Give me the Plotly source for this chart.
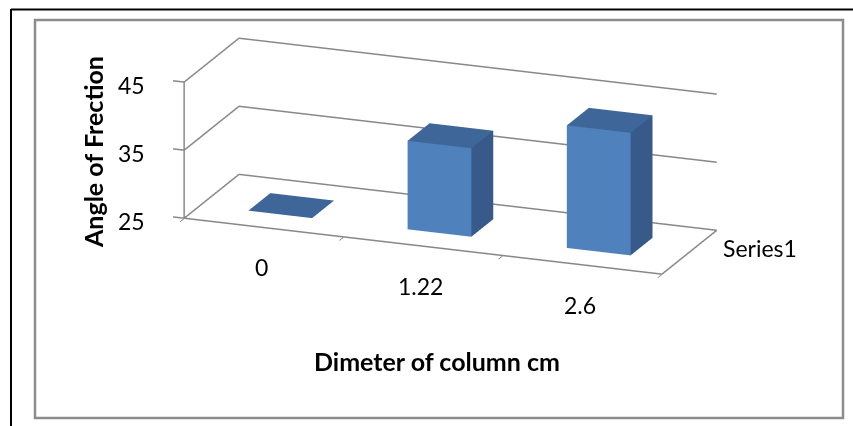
import plotly.graph_objects as go

# Column chart: angle of friction against column diameter
categories = ["0", "1.22", "2.6"]
angle_values = [25, 38, 43]
series_name = "Series1"
z_ticks = [25, 35, 45]

W, H = 853, 426
FONT = "Lato, 'Open Sans', sans-serif"

FRONT = "#4F81BD"
SIDE = "#385A8A"
TOP = "#3E6699"
EDGE = "#888888"

BAR_HALF = 0.2          # half of the column width (category units)
DEPTH = (0.3, 0.7)      # column extent along the series axis
BASE = z_ticks[0]
X_MIN, X_MAX = -0.5, len(categories) - 0.5
Y_MIN, Y_MAX = 0.0, 1.0
STUB = 0.07             # length of the value-axis tick stubs
# small margins so edges lying on the box faces are not clipped
XPAD_L, XPAD_R, YPAD, ZPAD = STUB + 0.01, 0.01, 0.01, 0.05


def box(xc, top):
    x0, x1 = xc - BAR_HALF, xc + BAR_HALF
    y0, y1 = DEPTH
    z0, z1 = BASE, top
    xs = [x0, x1, x1, x0, x0, x1, x1, x0]
    ys = [y0, y0, y1, y1, y0, y0, y1, y1]
    zs = [z0, z0, z0, z0, z1, z1, z1, z1]
    faces = [
        ((0, 1, 2), TOP), ((0, 2, 3), TOP),        # bottom
        ((4, 5, 6), TOP), ((4, 6, 7), TOP),        # top
        ((0, 1, 5), FRONT), ((0, 5, 4), FRONT),    # front
        ((3, 2, 6), SIDE), ((3, 6, 7), SIDE),      # back
        ((0, 3, 7), SIDE), ((0, 7, 4), SIDE),      # left
        ((1, 2, 6), SIDE), ((1, 6, 5), SIDE),      # right
    ]
    return xs, ys, zs, faces


X, Y, Z, I, J, K, C = [], [], [], [], [], [], []
for idx, val in enumerate(angle_values):
    xs, ys, zs, faces = box(idx, val)
    off = len(X)
    X += xs; Y += ys; Z += zs
    for (a, b, c), col in faces:
        I.append(a + off); J.append(b + off); K.append(c + off); C.append(col)

# wall grid lines at each value tick, floor outline, and the value-axis edge
lx, ly, lz = [], [], []


def seg(p, q):
    lx.extend([p[0], q[0], None]); ly.extend([p[1], q[1], None]); lz.extend([p[2], q[2], None])


for t in z_ticks:
    seg((X_MIN, Y_MIN, t), (X_MIN, Y_MAX, t))          # side wall
    seg((X_MIN, Y_MAX, t), (X_MAX, Y_MAX, t))          # back wall
    seg((X_MIN - STUB, Y_MIN, t), (X_MIN, Y_MIN, t))   # tick stub
seg((X_MIN, Y_MIN, BASE), (X_MAX, Y_MIN, BASE))        # floor front edge
seg((X_MAX, Y_MIN, BASE), (X_MAX, Y_MAX, BASE))        # floor right edge
seg((X_MIN, Y_MIN, z_ticks[0]), (X_MIN, Y_MIN, z_ticks[-1]))  # value axis

fig = go.Figure()
fig.add_trace(go.Scatter3d(
    x=lx, y=ly, z=lz, mode="lines", line=dict(color=EDGE, width=3),
    hoverinfo="skip", showlegend=False,
))
fig.add_trace(go.Mesh3d(
    x=X, y=Y, z=Z, i=I, j=J, k=K,
    facecolor=C, flatshading=True,
    lighting=dict(ambient=1, diffuse=0, specular=0, roughness=1, fresnel=0),
    hoverinfo="skip", showscale=False, name=series_name,
))

axis_common = dict(
    showbackground=False, showspikes=False, zeroline=False,
    showline=False, showgrid=False,
    title=dict(text=""), showticklabels=False,
)

label_font = dict(family=FONT, size=23, color="black")
scene_annotations = [
    dict(x=i, y=Y_MIN, z=BASE, text=cat, showarrow=False, font=label_font,
         xshift=-2, yshift=-40)
    for i, cat in enumerate(categories)
]
scene_annotations += [
    dict(x=X_MIN, y=Y_MIN, z=t, text=str(t), showarrow=False, font=label_font,
         xanchor="right", xshift=-37, yshift=-3)
    for t in z_ticks
]
scene_annotations.append(
    dict(x=X_MAX, y=(Y_MIN + Y_MAX) / 2, z=BASE, text=series_name, showarrow=False,
         font=label_font, xanchor="left", xshift=32, yshift=4)
)

x_lo, x_hi = X_MIN - XPAD_L, X_MAX + XPAD_R
y_lo, y_hi = Y_MIN - YPAD, Y_MAX + YPAD

# orthographic view from the front-right, slightly above the floor
R = 1.974
DIR = (0.340, -0.889, 0.306)
CEN = (0.0195, 0.0, -0.09)

fig.update_layout(
    width=W, height=H,
    margin=dict(l=0, r=0, t=0, b=0),
    paper_bgcolor="white",
    showlegend=False,
    scene=dict(
        domain=dict(x=[0.05, 1.0], y=[0.2, 1.0]),
        aspectmode="manual",
        aspectratio=dict(x=x_hi - x_lo, y=0.9 * (y_hi - y_lo), z=0.843),
        camera=dict(
            eye=dict(x=CEN[0] + DIR[0] * R, y=CEN[1] + DIR[1] * R, z=CEN[2] + DIR[2] * R),
            center=dict(x=CEN[0], y=CEN[1], z=CEN[2]),
            up=dict(x=0, y=0, z=1),
            projection=dict(type="orthographic"),
        ),
        xaxis=dict(
            axis_common, range=[x_lo, x_hi],
            tickvals=[i - 0.5 for i in range(len(categories) + 1)],
            ticks="outside", ticklen=10, tickwidth=2, tickcolor="#727272",
        ),
        yaxis=dict(axis_common, range=[y_lo, y_hi], ticks=""),
        zaxis=dict(axis_common, range=[z_ticks[0] - ZPAD, z_ticks[-1] + ZPAD], ticks=""),
        annotations=scene_annotations,
    ),
    annotations=[
        dict(text="<b>Angle of Frection</b>", x=93 / W, y=1 - 152 / H,
             xref="paper", yref="paper", xanchor="center", yanchor="middle",
             showarrow=False, textangle=-90,
             font=dict(family=FONT, size=25, color="black")),
        dict(text="<b>Dimeter of column cm</b>", x=437 / W, y=1 - 361 / H,
             xref="paper", yref="paper", xanchor="center", yanchor="middle",
             showarrow=False,
             font=dict(family=FONT, size=25, color="black")),
    ],
    shapes=[
        dict(type="line", xref="paper", yref="paper", x0=11 / W, x1=1, y0=1 - 9.5 / H, y1=1 - 9.5 / H,
             line=dict(color="black", width=2)),
        dict(type="line", xref="paper", yref="paper", x0=11 / W, x1=11 / W, y0=0, y1=1 - 9 / H,
             line=dict(color="black", width=2)),
        dict(type="rect", xref="paper", yref="paper", x0=35 / W, x1=843 / W, y0=1 - 418 / H, y1=1 - 20 / H,
             line=dict(color="#8c8c8c", width=2.5)),
    ],
)

fig.write_html("out.html")
